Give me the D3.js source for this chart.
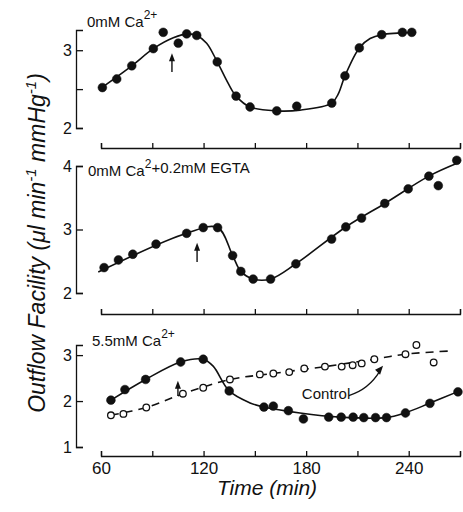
<!DOCTYPE html>
<html>
<head>
<meta charset="utf-8">
<script src="https://cdn.jsdelivr.net/npm/d3@7"></script>
<style>
  body { margin: 0; background: #fff; }
  svg text { font-family: "Liberation Sans", Arial, sans-serif; fill: #111; }
</style>
</head>
<body>
<svg id="chart" width="463" height="512"></svg>
<script>
const xTicks = [60, 90, 120, 150, 180, 210, 240, 270];
const xLabels = [60, 120, 180, 240];

// 0 mM Ca2+
const timeA = [60.8, 69.2, 78.0, 90.6, 96.4, 105.2, 110.1, 116.0, 128.0, 139.0, 147.2, 162.8, 174.5, 195.0, 202.7, 211.1, 224.2, 236.3, 241.8];
const flowA = [2.52, 2.63, 2.80, 3.02, 3.23, 3.09, 3.21, 3.19, 2.85, 2.41, 2.27, 2.22, 2.28, 2.32, 2.67, 3.03, 3.20, 3.23, 3.23];
const fitTimeA = [59.8, 78, 90.6, 102.3, 111.1, 116, 121.8, 128, 134.5, 139, 147.2, 162.8, 176.4, 195, 198.8, 202.7, 211.1, 217.4, 224.2, 242.7];
const fitFlowA = [2.51, 2.80, 3.02, 3.16, 3.21, 3.19, 3.09, 2.85, 2.57, 2.41, 2.27, 2.22, 2.23, 2.32, 2.44, 2.67, 3.03, 3.15, 3.20, 3.23];

// 0 mM Ca2+ + 0.2 mM EGTA
const timeB = [61.8, 70.2, 78.6, 92.2, 110.1, 119.8, 128.2, 137.0, 141.8, 149.0, 159.2, 174.0, 194.9, 203.2, 212.4, 226.0, 239.7, 251.8, 257.3, 268.1];
const flowB = [2.40, 2.52, 2.61, 2.77, 2.94, 3.03, 3.03, 2.59, 2.34, 2.22, 2.22, 2.46, 2.85, 3.04, 3.18, 3.41, 3.64, 3.84, 3.69, 4.09];
const fitTimeB = [58.4, 110.1, 128.2, 137, 141.8, 149, 159.2, 174, 203.2, 226, 251.8, 269];
const fitFlowB = [2.33, 2.94, 3.03, 2.59, 2.34, 2.22, 2.22, 2.46, 3.04, 3.41, 3.84, 4.05];

// 5.5 mM Ca2+
const timeC = [65.8, 74.0, 86.1, 106.6, 119.8, 135.0, 155.3, 160.8, 169.6, 178.4, 193.2, 200.5, 207.5, 213.7, 220.6, 227.0, 238.1, 252.4, 268.8];
const flowC = [2.02, 2.25, 2.47, 2.85, 2.91, 2.22, 1.87, 1.89, 1.79, 1.61, 1.65, 1.65, 1.65, 1.64, 1.64, 1.64, 1.74, 1.95, 2.20];
const fitTimeC = [65.8, 86.1, 106.6, 119.8, 125.6, 135, 147.2, 155.3, 176.4, 199.8, 226.7, 237.8, 252.1, 268.4];
const fitFlowC = [2.02, 2.47, 2.85, 2.91, 2.76, 2.22, 1.96, 1.87, 1.74, 1.65, 1.64, 1.74, 1.95, 2.20];

// control
const timeCtl = [65.8, 73.1, 86.5, 107.9, 119.8, 135.4, 152.9, 160.8, 170.1, 178.9, 191.0, 200.8, 207.2, 212.5, 219.9, 238.1, 244.5, 254.6];
const flowCtl = [1.69, 1.72, 1.86, 2.16, 2.29, 2.47, 2.58, 2.60, 2.63, 2.71, 2.75, 2.75, 2.78, 2.82, 2.91, 3.02, 3.22, 2.84];
const fitTimeCtl = [65.8, 86.3, 108.1, 135.5, 160.6, 191.0, 219.7, 237.8, 264.2];
const fitFlowCtl = [1.69, 1.86, 2.16, 2.47, 2.60, 2.75, 2.91, 3.02, 3.09];

// arrows marking the solution change: time, tail value, tip value
const arrowTime = [101.5, 116.2, 105];
const arrowTail = [2.72, 2.49, 2.11];
const arrowTip = [2.96, 2.79, 2.44];

const svg = d3.select("#chart");
const x = d3.scaleLinear().domain([60, 270]).range([101, 460]);
const yAxisX = 76;

const panels = [
  {domain: [2, 3.26], range: [128, 30], ticks: [2, 2.5, 3], axisY: 148,
   label: ["0mM Ca", "2+", ""], lx: 87, ly: 27},
  {domain: [2, 4], range: [293, 166], ticks: [2, 3, 4], axisY: 314,
   label: ["0mM Ca", "2", "+0.2mM EGTA"], lx: 88, ly: 176},
  {domain: [1, 3.22], range: [447, 345], ticks: [1, 2, 3], axisY: 456,
   label: ["5.5mM Ca", "2+", ""], lx: 92, ly: 346}
];
panels.forEach(p => p.y = d3.scaleLinear().domain(p.domain).range(p.range));

const zip = (a, b) => a.map((d, i) => [d, b[i]]);
const series = [
  {p: 0, pts: zip(timeA, flowA), fit: zip(fitTimeA, fitFlowA), open: false},
  {p: 1, pts: zip(timeB, flowB), fit: zip(fitTimeB, fitFlowB), open: false},
  {p: 2, pts: zip(timeCtl, flowCtl), fit: zip(fitTimeCtl, fitFlowCtl), open: true},
  {p: 2, pts: zip(timeC, flowC), fit: zip(fitTimeC, fitFlowC), open: false}
];

panels.forEach((p, i) => {
  const gx = svg.append("g")
    .attr("transform", `translate(0,${p.axisY})`)
    .call(d3.axisBottom(x).tickValues(xTicks)
      .tickSizeInner(-5).tickSizeOuter(-5).tickPadding(6)
      .tickFormat(d => i === 2 && xLabels.includes(d) ? d : ""));
  const gy = svg.append("g")
    .attr("transform", `translate(${yAxisX},0)`)
    .call(d3.axisLeft(p.y).tickValues(p.ticks)
      .tickSizeInner(-7).tickSizeOuter(-7).tickPadding(4)
      .tickFormat(d => Number.isInteger(d) ? d : ""));
  [gx, gy].forEach(g => {
    g.attr("font-family", null);
    g.selectAll("path, line").attr("stroke", "#111").attr("stroke-width", 1.3);
    g.selectAll("text").attr("font-size", 16).attr("fill", "#111");
  });
  gx.selectAll("text").attr("font-size", 17);

  const t = svg.append("text").attr("x", p.lx).attr("y", p.ly).attr("font-size", 15);
  t.append("tspan").text(p.label[0]);
  t.append("tspan").attr("dy", -8).attr("font-size", 12).text(p.label[1]);
  if (p.label[2]) t.append("tspan").attr("dy", 5).text(p.label[2]);
});

const line = yS => d3.line()
  .x(d => x(d[0])).y(d => yS(d[1]))
  .curve(d3.curveCatmullRom.alpha(0.5));

series.forEach(s => {
  const yS = panels[s.p].y;
  svg.append("path")
    .attr("d", line(yS)(s.fit))
    .attr("fill", "none")
    .attr("stroke", "#111")
    .attr("stroke-width", 1.6)
    .attr("stroke-dasharray", s.open ? "8,6" : null);
  svg.append("g").selectAll("circle")
    .data(s.pts)
    .enter()
    .append("circle")
    .attr("cx", d => x(d[0]))
    .attr("cy", d => yS(d[1]))
    .attr("r", s.open ? 3.3 : 4.4)
    .attr("fill", s.open ? "#fff" : "#111")
    .attr("stroke", "#111")
    .attr("stroke-width", s.open ? 1.3 : 0.5);
});

// vertical arrows
arrowTime.forEach((t, i) => {
  const yS = panels[i].y;
  const ax = x(t), y0 = yS(arrowTail[i]), y1 = yS(arrowTip[i]);
  svg.append("line")
    .attr("x1", ax).attr("x2", ax).attr("y1", y0).attr("y2", y1 + 5)
    .attr("stroke", "#111").attr("stroke-width", 1.4);
  svg.append("path")
    .attr("d", `M${ax},${y1}L${ax - 3},${y1 + 8}L${ax + 3},${y1 + 8}Z`)
    .attr("fill", "#111");
});

// "Control" note with curved arrow
const yC = panels[2].y;
svg.append("text")
  .attr("x", x(177.5)).attr("y", yC(2.04))
  .attr("font-size", 15)
  .text("Control");
const a0 = [x(205), yC(2.12)], a1 = [x(225), yC(2.77)];
svg.append("path")
  .attr("d", `M${a0[0]},${a0[1]}Q${a0[0] + 20},${a0[1] - 6} ${a1[0] - 3},${a1[1] + 5}`)
  .attr("fill", "none").attr("stroke", "#111").attr("stroke-width", 1.3);
svg.append("path")
  .attr("d", `M${a1[0]},${a1[1]}L${a1[0] - 8},${a1[1] + 4}L${a1[0] - 3},${a1[1] + 9}Z`)
  .attr("fill", "#111");

// axis titles
svg.append("text")
  .attr("x", 267).attr("y", 495)
  .attr("text-anchor", "middle")
  .attr("font-size", 21)
  .attr("font-style", "italic")
  .text("Time (min)");

const yt = svg.append("text")
  .attr("transform", "translate(45,243) rotate(-90)")
  .attr("text-anchor", "middle")
  .attr("font-size", 23)
  .attr("font-style", "italic");
yt.append("tspan").text("Outflow Facility (\u03bcl min");
yt.append("tspan").attr("dy", -9).attr("font-size", 15).text("-1");
yt.append("tspan").attr("dy", 9).text(" mmHg");
yt.append("tspan").attr("dy", -9).attr("font-size", 15).text("-1");
yt.append("tspan").attr("dy", 9).text(")");
</script>
</body>
</html>
